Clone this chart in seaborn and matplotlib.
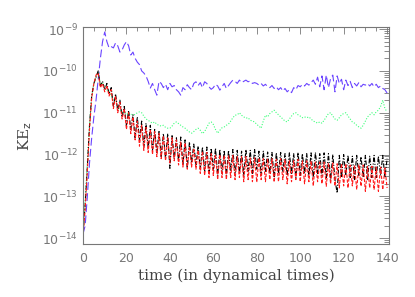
import numpy as np
import pandas as pd
import matplotlib
matplotlib.use("Agg")
import matplotlib.pyplot as plt
import seaborn as sns
from matplotlib.ticker import LogLocator, MultipleLocator, FuncFormatter, NullFormatter

# time in dynamical times
time = list(range(0, 141))

# log10 of KE_z for each run
blue_log = [-13.9, -13.7, -13.0, -12.2, -11.6, -11.1, -10.7, -10.2, -9.7, -9.3,
            -9.07, -9.3, -9.45, -9.42, -9.45, -9.33, -9.40, -9.55, -9.50, -9.38,
            -9.30, -9.40, -9.62, -9.55, -9.70, -9.79, -9.85, -10.0, -10.05, -10.12,
            -10.25, -10.41, -10.30, -10.45, -10.58, -10.25, -10.3, -10.4, -10.32, -10.45,
            -10.3, -10.38, -10.35, -10.45, -10.5, -10.58, -10.4, -10.45, -10.33, -10.4,
            -10.45, -10.3, -10.26, -10.35, -10.28, -10.4, -10.26, -10.3, -10.38, -10.44,
            -10.4, -10.32, -10.36, -10.46, -10.38, -10.3, -10.42, -10.35, -10.28, -10.22,
            -10.25, -10.3, -10.22, -10.28, -10.25, -10.22, -10.26, -10.24, -10.3, -10.28,
            -10.3, -10.34, -10.3, -10.36, -10.32, -10.38, -10.4, -10.35, -10.42, -10.38,
            -10.45, -10.4, -10.48, -10.42, -10.5, -10.45, -10.52, -10.4, -10.45, -10.35,
            -10.38, -10.32, -10.36, -10.3, -10.34, -10.28, -10.22, -10.32, -10.15, -10.38,
            -10.12, -10.45, -10.1, -10.4, -10.18, -10.1, -10.5, -10.12, -10.3, -10.2,
            -10.45, -10.22, -10.35, -10.25, -10.4, -10.3, -10.36, -10.28, -10.38, -10.32,
            -10.34, -10.3, -10.36, -10.3, -10.38, -10.32, -10.4, -10.36, -10.42, -10.45,
            -10.53]

green_log = [-13.9, -13.1, -12.2, -11.3, -10.6, -10.3, -10.15, -10.02, -10.3, -10.28,
             -10.4, -10.45, -10.5, -10.6, -10.7, -10.75, -10.85, -10.94, -10.98, -11.02,
             -11.0, -11.05, -11.02, -11.06, -11.04, -11.0, -10.98, -11.0, -11.08, -11.15,
             -11.18, -11.22, -11.25, -11.22, -11.28, -11.3, -11.32, -11.3, -11.35, -11.37,
             -11.37, -11.32, -11.25, -11.22, -11.26, -11.3, -11.34, -11.37, -11.42, -11.46,
             -11.49, -11.45, -11.4, -11.37, -11.42, -11.5, -11.45, -11.35, -11.25, -11.22,
             -11.28, -11.4, -11.49, -11.42, -11.36, -11.34, -11.3, -11.27, -11.2, -11.12,
             -11.06, -11.05, -11.0, -11.06, -11.1, -11.13, -11.12, -11.18, -11.2, -11.22,
             -11.28, -11.32, -11.37, -11.2, -11.06, -11.1, -11.02, -10.98, -10.94, -11.0,
             -11.05, -11.1, -11.15, -11.2, -11.22, -11.15, -11.08, -11.02, -11.0, -11.05,
             -11.08, -11.12, -11.1, -11.12, -11.1, -11.15, -11.2, -11.22, -11.25, -11.22,
             -11.25, -11.18, -11.1, -11.02, -11.0, -11.08, -11.15, -11.18, -11.12, -11.05,
             -11.02, -11.0, -11.08, -11.15, -11.22, -11.25, -11.3, -11.34, -11.37, -11.3,
             -11.2, -11.1, -11.05, -11.0, -11.05, -10.98, -10.94, -10.85, -10.7, -10.9,
             -10.98]

black_log = [-13.9, -13.2, -12.3, -11.3, -10.6, -10.3, -10.15, -10.0, -10.35, -10.25,
             -10.45, -10.3, -10.55, -10.4, -10.85, -10.55, -10.95, -10.7, -11.1, -10.85,
             -11.3, -10.95, -11.4, -11.05, -11.6, -11.1, -11.65, -11.2, -11.8, -11.25,
             -11.85, -11.3, -11.9, -11.4, -11.95, -11.45, -12.05, -11.5, -12.1, -11.5,
             -12.33, -11.55, -12.1, -11.6, -12.15, -11.58, -12.25, -11.65, -12.33, -11.7,
             -12.2, -11.75, -12.25, -11.8, -12.35, -11.82, -12.4, -11.82, -12.45, -11.85,
             -12.35, -11.85, -12.5, -11.88, -12.45, -11.9, -12.5, -11.9, -12.4, -11.88,
             -12.5, -11.9, -12.45, -11.92, -12.5, -11.88, -12.4, -11.9, -12.45, -11.88,
             -12.35, -11.92, -12.5, -11.92, -12.4, -11.94, -12.45, -11.95, -12.55, -11.96,
             -12.45, -11.95, -12.4, -11.98, -12.5, -11.96, -12.45, -11.98, -12.55, -11.95,
             -12.5, -11.98, -12.45, -11.98, -12.5, -11.96, -12.55, -11.95, -12.45, -11.98,
             -12.5, -11.96, -12.55, -11.98, -12.6, -12.0, -12.6, -12.92, -12.02, -12.55,
             -12.0, -12.5, -12.02, -12.55, -12.04, -12.6, -12.02, -12.5, -12.05, -12.55,
             -12.02, -12.6, -12.04, -12.55, -12.02, -12.55, -12.04, -12.5, -12.02, -12.55,
             -12.1]

red_log = [-13.95, -13.3, -12.4, -11.4, -10.65, -10.3, -10.1, -10.05, -10.4, -10.3,
           -10.5, -10.35, -10.6, -10.45, -10.9, -10.6, -11.0, -10.75, -11.15, -10.9,
           -11.4, -11.0, -11.5, -11.1, -11.65, -11.2, -11.8, -11.3, -11.9, -11.35,
           -11.95, -11.4, -12.0, -11.45, -12.05, -11.5, -12.1, -11.55, -12.15, -11.6,
           -12.2, -11.6, -12.15, -11.65, -12.25, -11.7, -12.3, -11.72, -12.35, -11.8,
           -12.3, -11.85, -12.35, -11.9, -12.45, -11.92, -12.5, -11.95, -12.55, -11.98,
           -12.5, -12.0, -12.6, -12.0, -12.55, -12.02, -12.6, -12.02, -12.55, -12.02,
           -12.6, -12.05, -12.55, -12.05, -12.65, -12.05, -12.6, -12.08, -12.65, -12.08,
           -12.66, -12.08, -12.6, -12.1, -12.65, -12.1, -12.6, -12.1, -12.66, -12.12,
           -12.65, -12.1, -12.6, -12.12, -12.7, -12.15, -12.65, -12.15, -12.6, -12.12,
           -12.65, -12.15, -12.7, -12.15, -12.65, -12.15, -12.75, -12.18, -12.65, -12.18,
           -12.7, -12.18, -12.76, -12.2, -12.7, -12.2, -12.75, -12.22, -12.8, -12.22,
           -12.75, -12.22, -12.8, -12.25, -12.75, -12.25, -12.84, -12.25, -12.76, -12.25,
           -12.88, -12.28, -12.8, -12.28, -12.84, -12.3, -12.88, -12.3, -12.84, -12.32,
           -12.8]

x_ticks = [0, 20, 40, 60, 80, 100, 120, 140]
y_ticks = [1e-14, 1e-13, 1e-12, 1e-11, 1e-10, 1e-9]

sns.set_style("white")
plt.rcParams['font.family'] = ['DejaVu Sans']

fig = plt.figure(figsize=(4.15, 2.97), dpi=100)
ax = fig.add_axes([0.2, 0.178, 0.738, 0.731])
ax.set_yscale('log')

series = [
    (blue_log, '#6a44ff', (0, (7, 3))),
    (green_log, '#3cff7a', (0, (1, 1.5))),
    (black_log, '#000000', (0, (4, 1.5, 1, 1.5))),
    (red_log, '#ff1a1a', (0, (3, 1.5))),
]
for vals, col, ls in series:
    df = pd.DataFrame({'t': time, 'ke': np.power(10.0, vals)})
    sns.lineplot(data=df, x='t', y='ke', ax=ax, color=col, linewidth=0.8,
                 linestyle=ls)

ax.set_xlim(0, 141)
ax.set_ylim(7.2e-15, 1.12e-9)

ax.set_xticks(x_ticks)
ax.xaxis.set_minor_locator(MultipleLocator(5))
ax.set_yticks(y_ticks)
ax.yaxis.set_minor_locator(LogLocator(base=10, subs=np.arange(2, 10)))
ax.yaxis.set_minor_formatter(NullFormatter())

def fmt(v, pos):
    e = int(round(np.log10(v)))
    return r'$10^{%d}$' % e
ax.yaxis.set_major_formatter(FuncFormatter(fmt))

gray = '#777777'
for s in ax.spines.values():
    s.set_color(gray)
    s.set_linewidth(0.8)
ax.tick_params(which='both', direction='in', top=True, right=True,
               color=gray, width=0.6, labelcolor='#777777', labelsize=9)
ax.tick_params(axis='y', which='major', length=7)
ax.tick_params(axis='y', which='minor', length=3.5)
ax.tick_params(axis='x', which='major', length=5)
ax.tick_params(axis='x', which='minor', length=3)
ax.tick_params(axis='x', which='major', pad=6)

ax.set_xlabel('time (in dynamical times)', family='DejaVu Serif', fontsize=11,
              color='#444444', labelpad=2)
ax.set_ylabel(r'KE$_\mathrm{z}$', family='DejaVu Serif', fontsize=11,
              color='#444444', labelpad=6)

fig.savefig('out.png', dpi=100)
